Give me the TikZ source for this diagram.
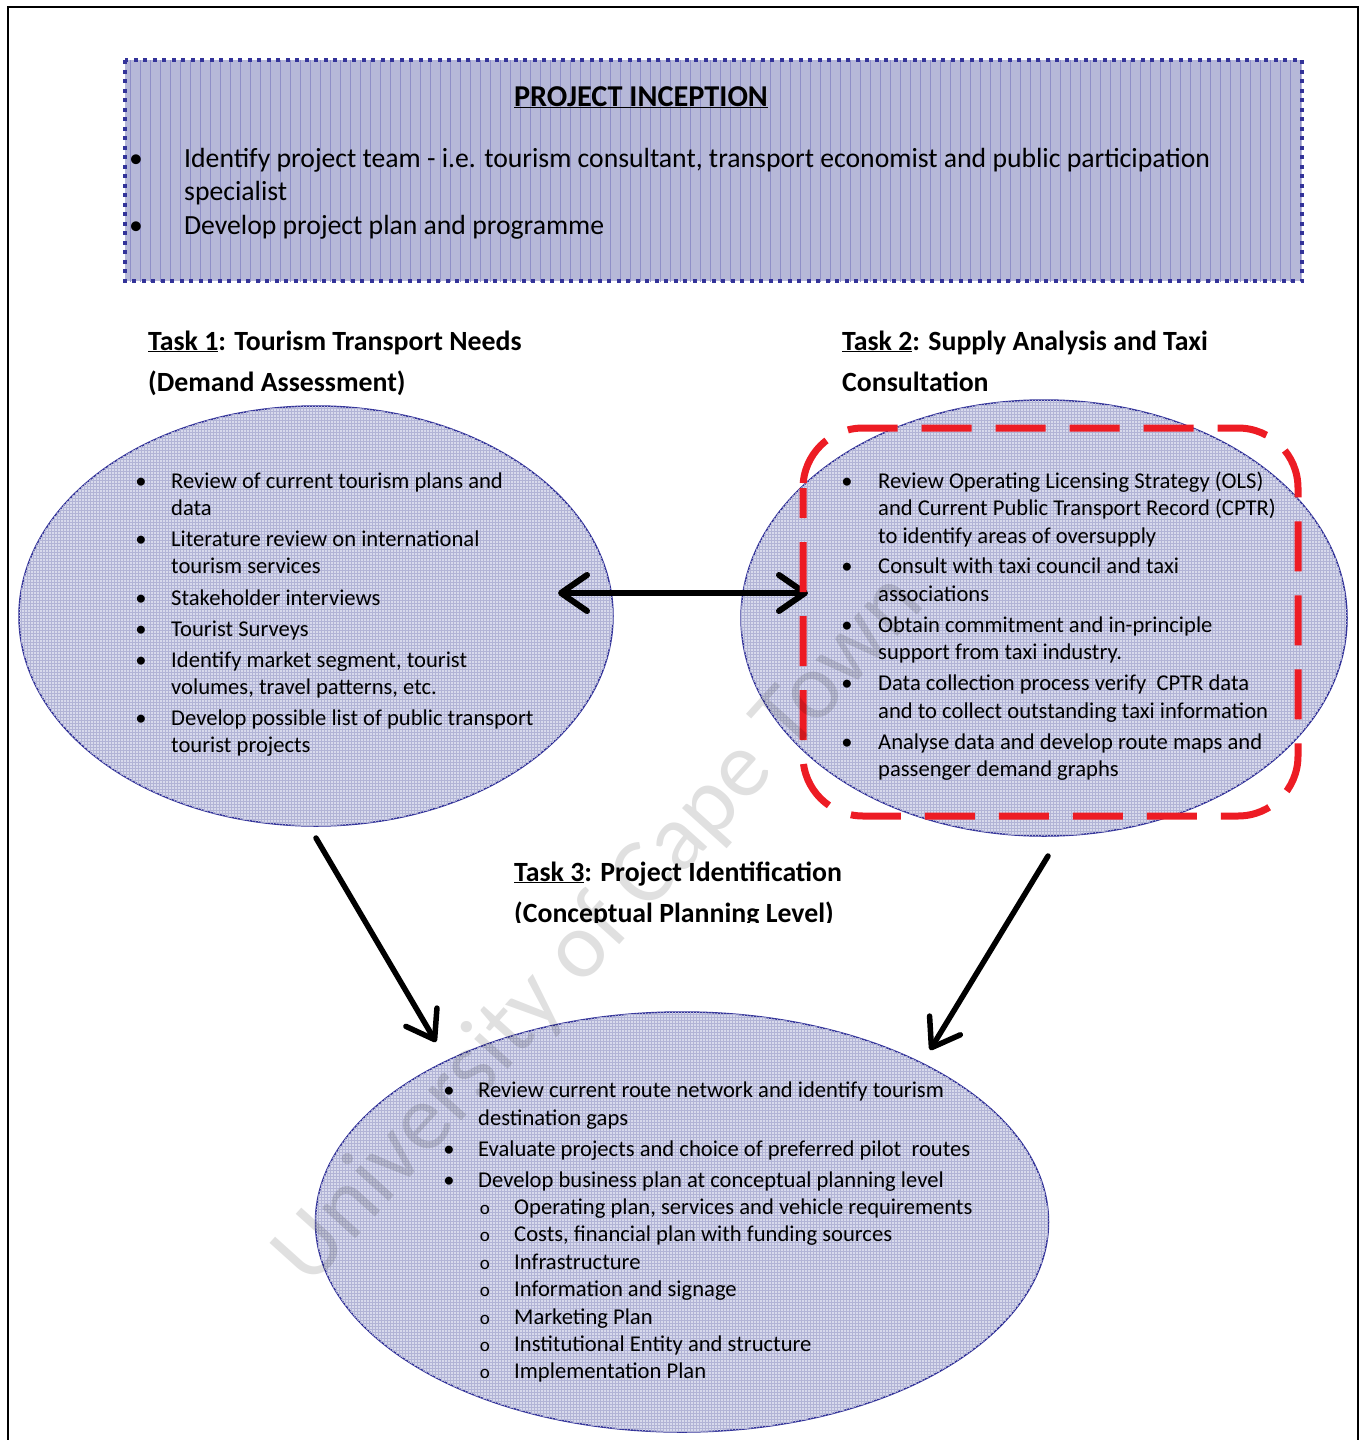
\documentclass[tikz,border=0pt]{standalone}
\usepackage{fontspec}
\setmainfont{Carlito}
\usetikzlibrary{arrows.meta,patterns,shapes.geometric}
\definecolor{boxblue}{RGB}{51,51,153}
\definecolor{boxfill}{RGB}{182,184,216}
\definecolor{ellfill}{RGB}{216,218,236}
\definecolor{ellgrid}{RGB}{178,180,214}
\definecolor{redline}{RGB}{237,28,36}
\begin{document}
\begin{tikzpicture}[x=1pt, y=-1pt,
    taskell/.style={ellipse, draw=boxblue, line width=1.5pt, fill=ellfill,
      postaction={pattern=grid, pattern color=ellgrid}, inner sep=0pt},
    itemtxt/.style={anchor=base west, inner sep=0pt, font=\fontsize{22.6}{26}\selectfont},
    itembul/.style={anchor=base, inner sep=0pt, font=\fontsize{22.6}{26}\selectfont},
    toptxt/.style={anchor=base west, inner sep=0pt, font=\fontsize{27.7}{32}\selectfont},
    heading/.style={anchor=base west, inner sep=0pt, font=\bfseries\fontsize{27.8}{32}\selectfont},
    bigarrow/.style={line width=6pt, line cap=round,
      arrows={-Straight Barb[length=26pt, width=36pt, line cap=round, line join=round]}}
  ]
  \useasboundingbox (0,0) rectangle (1364,1440);
  % page frame
  \draw[line width=2pt] (8,7) rectangle (1358,1460);

  % project inception box
  \fill[boxfill] (125,60) rectangle (1302,281);
  \begin{scope}
    \clip (125,60) rectangle (1302,281);
    \draw[boxblue!55, line width=0.7pt, step=10] (120,55) grid (1310,290);
  \end{scope}
  \draw[boxblue, line width=4pt, dash pattern=on 4pt off 5.5pt] (125,60) rectangle (1302,281);
  \node[anchor=base, inner sep=0pt, font=\bfseries\fontsize{30.3}{34}\selectfont] (incept) at (641,106)
    {\underline{PROJECT INCEPTION}};
  \node[itembul, font=\fontsize{27.7}{32}\selectfont] (ib1) at (136,167) {•};
  \node[itembul, font=\fontsize{27.7}{32}\selectfont] (ib2) at (136,234) {•};
  \node[toptxt] (it1) at (184,167) {Identify project team - i.e. tourism consultant, transport economist and public participation};
  \node[toptxt] (it2) at (184,200) {specialist};
  \node[toptxt] (it3) at (184,234) {Develop project plan and programme};

  % task headings
  \node[heading] (h1a) at (148,350) {\underline{Task 1}: Tourism Transport Needs};
  \node[heading] (h1b) at (148,391) {(Demand Assessment)};
  \node[heading] (h2a) at (842,350) {\underline{Task 2}: Supply Analysis and Taxi};
  \node[heading] (h2b) at (842,391) {Consultation};
  \node[heading] (h3a) at (514,881) {\underline{Task 3}: Project Identification};
  \begin{scope}
    \clip (500,896) rectangle (900,922);
    \node[heading] (h3b) at (514,922) {(Conceptual Planning Level)};
  \end{scope}

  % ellipses
  \node[taskell, minimum width=594pt, minimum height=420pt] (task1) at (316,616) {};
  \node[taskell, minimum width=606pt, minimum height=436pt] (task2) at (1044,618) {};
  \node[taskell, minimum width=733pt, minimum height=420pt] (task3) at (682,1222) {};

  % arrows
  \coordinate (t1r) at (558,593);
  \coordinate (t2l) at (808,593);
  \coordinate (t1d) at (316,838);
  \coordinate (t3l) at (436,1042);
  \coordinate (t2d) at (1048,856);
  \coordinate (t3r) at (930,1050);
  \draw[bigarrow, arrows={Straight Barb[length=26pt, width=36pt, line cap=round, line join=round]-Straight Barb[length=26pt, width=36pt, line cap=round, line join=round]}] (t1r) -- (t2l);
  \draw[bigarrow, line width=5.5pt] (t1d) -- (t3l);
  \draw[bigarrow, line width=5.5pt] (t2d) -- (t3r);

  % taxi consultation frame
  \draw[redline, line width=7pt, dash pattern=on 50pt off 24pt, dash phase=20pt, rounded corners=60pt]
    (803,428) rectangle (1298,816);

  % task 1 items
  \foreach \yy/\txt [count=\i] in {488/{Review of current tourism plans and}, 515/{data},
      546/{Literature review on international}, 573/{tourism services},
      605/{Stakeholder interviews}, 636/{Tourist Surveys},
      667/{Identify market segment, tourist}, 694/{volumes, travel patterns, etc.},
      725/{Develop possible list of public transport}, 752/{tourist projects}}
    \node[itemtxt] (a\i) at (171,\yy) {\txt};
  \foreach \yy [count=\i] in {488,546,605,636,667,725}
    \node[itembul] (ab\i) at (141,\yy) {•};

  % task 2 items
  \foreach \yy/\txt [count=\i] in {488/{Review Operating Licensing Strategy (OLS)},
      515/{and Current Public Transport Record (CPTR)}, 543/{to identify areas of oversupply},
      573/{Consult with taxi council and taxi}, 601/{associations},
      632/{Obtain commitment and in-principle}, 659/{support from taxi industry.},
      690/{Data collection process verify\ \ CPTR data}, 718/{and to collect outstanding taxi information},
      749/{Analyse data and develop route maps and}, 776/{passenger demand graphs}}
    \node[itemtxt] (b\i) at (878,\yy) {\txt};
  \foreach \yy [count=\i] in {488,573,632,690,749}
    \node[itembul] (bb\i) at (847,\yy) {•};

  % task 3 items
  \foreach \yy/\txt [count=\i] in {1097/{Review current route network and identify tourism},
      1125/{destination gaps}, 1156/{Evaluate projects and choice of preferred pilot\ \ routes},
      1187/{Develop business plan at conceptual planning level}}
    \node[itemtxt] (c\i) at (478,\yy) {\txt};
  \foreach \yy [count=\i] in {1097,1156,1187}
    \node[itembul] (cb\i) at (449,\yy) {•};
  \foreach \yy/\txt [count=\i] in {1214/{Operating plan, services and vehicle requirements},
      1241/{Costs, financial plan with funding sources}, 1269/{Infrastructure},
      1296/{Information and signage}, 1324/{Marketing Plan},
      1351/{Institutional Entity and structure}, 1378/{Implementation Plan}} {
    \node[itemtxt] (d\i) at (514,\yy) {\txt};
    \node[itembul, font=\fontsize{19}{22}\selectfont] (db\i) at (485,\yy) {o};
  }

  % watermark
  \node[rotate=48, text=black, opacity=0.12, inner sep=0pt,
    font=\fontsize{94}{94}\selectfont] (wmark) at (600,930) {University of Cape Town};
\end{tikzpicture}
\end{document}
